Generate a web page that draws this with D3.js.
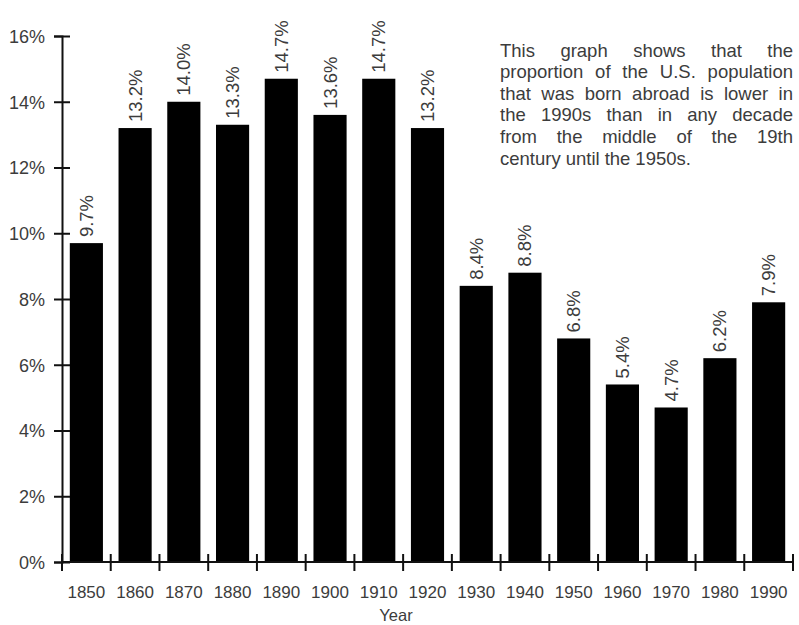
<!DOCTYPE html>
<html>
<head>
<meta charset="utf-8">
<script src="https://cdn.jsdelivr.net/npm/d3@7"></script>
<style>
  html, body { margin: 0; padding: 0; background: #fff; }
  svg { display: block; }
  text { font-family: "Liberation Sans", Arial, Helvetica, sans-serif; }
</style>
</head>
<body>
<svg id="chart" width="799" height="625"></svg>
<script>
// ---- data ----
const years = ["1850","1860","1870","1880","1890","1900","1910","1920","1930","1940","1950","1960","1970","1980","1990"];
const values = [9.7, 13.2, 14.0, 13.3, 14.7, 13.6, 14.7, 13.2, 8.4, 8.8, 6.8, 5.4, 4.7, 6.2, 7.9];
const labels = ["9.7%","13.2%","14.0%","13.3%","14.7%","13.6%","14.7%","13.2%","8.4%","8.8%","6.8%","5.4%","4.7%","6.2%","7.9%"];
const yTicks = [0, 2, 4, 6, 8, 10, 12, 14, 16];
const xTitle = "Year";
const noteLines = [
  "This graph shows that the",
  "proportion of the U.S. population",
  "that was born abroad is lower in",
  "the 1990s than in any decade",
  "from the middle of the 19th",
  "century until the 1950s."
];

// ---- layout ----
const svg = d3.select("#chart");
const mLeft = 62, mRight = 793, mTop = 36, mBottom = 562;
const textColor = "#3c3c3c";

const x = d3.scaleBand().domain(years).range([mLeft, mRight]).paddingInner(0.32).paddingOuter(0.16);
const y = d3.scaleLinear().domain([0, 16]).range([mBottom, mTop]);
const rows = years.map((yr, i) => ({ yr, v: values[i], lab: labels[i] }));

// bars
svg.append("g").selectAll("rect")
  .data(rows)
  .join("rect")
  .attr("x", d => x(d.yr))
  .attr("width", x.bandwidth())
  .attr("y", d => y(d.v))
  .attr("height", d => y(0) - y(d.v))
  .attr("fill", "#000");

// value labels (rotated)
svg.append("g").selectAll("text")
  .data(rows)
  .join("text")
  .attr("transform", d => `translate(${x(d.yr) + x.bandwidth() / 2 + 6.5},${y(d.v) - 6}) rotate(-90)`)
  .attr("text-anchor", "start")
  .attr("font-size", 18.5)
  .attr("fill", textColor)
  .text(d => d.lab);

// y axis
const yAxis = d3.axisLeft(y).tickValues(yTicks).tickFormat(d => d + "%").tickSize(8).tickPadding(9);
const gy = svg.append("g").attr("transform", `translate(${mLeft},0)`).call(yAxis);
gy.select(".domain").attr("stroke", "#111").attr("stroke-width", 2);
gy.selectAll(".tick line").attr("stroke", "#111").attr("stroke-width", 2).attr("x2", 8).attr("x1", -8);
gy.selectAll(".tick text").attr("font-size", 18).attr("fill", textColor).attr("font-family", "Liberation Sans, Arial, sans-serif").attr("dy", "0.36em");

// x axis
const step = x.step();
const boundaries = years.map(yr => x(yr) - step * x.paddingInner() / 2).concat([mRight]);
const gx = svg.append("g");
gx.append("line")
  .attr("x1", mLeft).attr("x2", mRight)
  .attr("y1", mBottom).attr("y2", mBottom)
  .attr("stroke", "#111").attr("stroke-width", 2);
gx.selectAll("line.tick")
  .data(boundaries)
  .join("line")
  .attr("class", "tick")
  .attr("x1", d => d).attr("x2", d => d)
  .attr("y1", mBottom - 8).attr("y2", mBottom + 9)
  .attr("stroke", "#111").attr("stroke-width", 2);
gx.selectAll("text")
  .data(years)
  .join("text")
  .attr("x", d => x(d) + x.bandwidth() / 2)
  .attr("y", 598)
  .attr("text-anchor", "middle")
  .attr("font-size", 17)
  .attr("fill", textColor)
  .text(d => d);

svg.append("text")
  .attr("x", 396).attr("y", 621)
  .attr("text-anchor", "middle")
  .attr("font-size", 16.5)
  .attr("fill", textColor)
  .text(xTitle);

// justified note text
const noteX0 = 500, noteX1 = 793, noteY0 = 56.5, noteLH = 21.6;
const note = svg.append("g").attr("fill", textColor).attr("font-size", 18.5);
noteLines.forEach((line, li) => {
  const words = line.split(" ");
  const yy = noteY0 + li * noteLH;
  const nodes = words.map(w => note.append("text").attr("y", yy).text(w));
  const widths = nodes.map(n => n.node().getComputedTextLength());
  const total = d3.sum(widths);
  const isLast = li === noteLines.length - 1;
  const gap = isLast ? 5 : (noteX1 - noteX0 - total) / (words.length - 1);
  let cx = noteX0;
  nodes.forEach((n, i) => { n.attr("x", cx); cx += widths[i] + gap; });
});
</script>
</body>
</html>
